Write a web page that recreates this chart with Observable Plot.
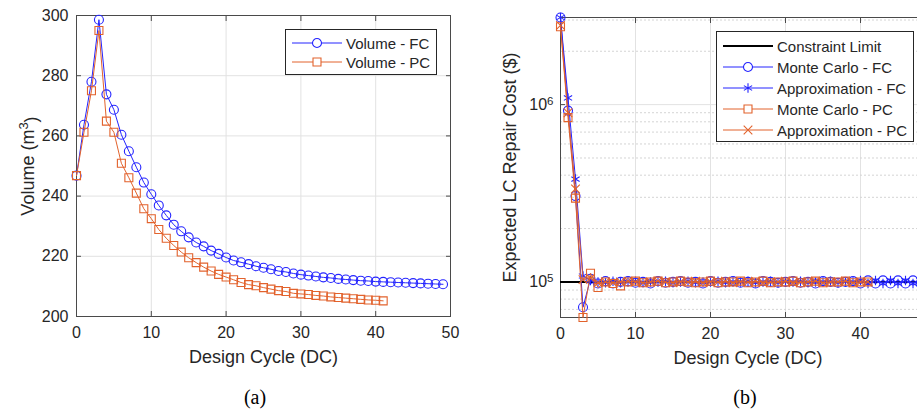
<!DOCTYPE html>
<html><head><meta charset="utf-8">
<script src="https://cdn.jsdelivr.net/npm/d3@7"></script>
<script src="https://cdn.jsdelivr.net/npm/@observablehq/plot@0.6"></script>
<style>
html,body{margin:0;padding:0;background:#fff;overflow:hidden;width:917px;height:409px}
#wrap{position:relative;width:917px;height:409px;overflow:hidden;font-family:"Liberation Sans",Arial,sans-serif}
.panel{position:absolute;top:0}
.legend{position:absolute;background:#fff;border:1px solid #262626;font-size:15px;color:#262626;box-sizing:border-box}
.legend .row{position:absolute;left:0;display:flex;align-items:center;white-space:nowrap}
.legend svg{display:block;margin-right:4px}
.cap{position:absolute;font-family:"Liberation Serif","Times New Roman",serif;font-size:20px;color:#000;transform:translate(-50%,-50%)}
</style></head>
<body><div id="wrap"></div>
<script>
// ---- data ----
const xTicks = [0, 10, 20, 30, 40, 50];
const xTicksVisibleB = [0, 10, 20, 30, 40];
const volTicks = [200, 220, 240, 260, 280, 300];
const costTicks = [1e5, 1e6];
const costMinor = [7e4, 8e4, 9e4, 2e5, 3e5, 4e5, 5e5, 6e5, 7e5, 8e5, 9e5, 2e6, 3e6];

const volumeFC = [246.8, 263.7, 278.0, 298.6, 273.8, 268.7, 260.4, 254.9, 249.6, 244.5,
  240.6, 236.9, 233.6, 230.5, 228.3, 226.3, 224.6, 223.3, 221.9, 220.8,
  219.6, 218.6, 218.0, 217.4, 216.7, 216.2, 215.7, 215.1, 214.8, 214.3,
  213.9, 213.6, 213.3, 213.0, 212.8, 212.5, 212.3, 212.1, 211.9, 211.8,
  211.6, 211.5, 211.4, 211.3, 211.2, 211.1, 211.0, 210.9, 210.8, 210.7];
const volumePC = [246.8, 261.2, 275.0, 295.0, 264.9, 261.2, 250.9, 246.1, 241.0, 235.8,
  232.5, 228.9, 226.0, 223.6, 221.4, 219.5, 217.9, 216.4, 215.1, 214.0,
  213.1, 212.2, 211.3, 210.6, 210.2, 209.6, 209.1, 208.6, 208.3, 207.7,
  207.5, 207.3, 207.0, 206.8, 206.5, 206.3, 206.1, 205.9, 205.7, 205.5,
  205.4, 205.2];

const constraintLimit = 1e5;
const mcFC = [3.10e6, 9.25e5, 3.05e5, 7.2e4, 1.04e5, 9.8e4, 1.01e5, 9.8e4, 1.0e5, 1.01e5,
  9.9e4, 1.0e5, 9.8e4, 1.01e5, 9.9e4, 1.0e5, 1.01e5, 9.9e4, 1.0e5, 9.8e4,
  1.01e5, 9.9e4, 1.0e5, 1.01e5, 9.9e4, 1.0e5, 9.8e4, 1.01e5, 1.0e5, 9.9e4,
  1.0e5, 1.01e5, 9.9e4, 1.0e5, 9.8e4, 1.01e5, 1.0e5, 9.9e4, 1.0e5, 1.01e5,
  9.8e4, 1.02e5, 9.8e4, 1.02e5, 9.8e4, 1.02e5, 9.8e4, 1.02e5, 9.8e4, 1.02e5];
const apFC = [3.10e6, 1.09e6, 3.8e5, 1.08e5, 1.02e5, 1.0e5, 9.9e4, 1.01e5, 9.9e4, 1.0e5,
  1.01e5, 9.9e4, 1.0e5, 1.0e5, 1.01e5, 9.9e4, 1.0e5, 1.01e5, 9.9e4, 1.0e5,
  1.0e5, 1.01e5, 9.9e4, 1.0e5, 1.0e5, 1.01e5, 9.9e4, 1.0e5, 1.01e5, 9.9e4,
  1.0e5, 1.0e5, 1.01e5, 9.9e4, 1.0e5, 1.0e5, 1.01e5, 9.9e4, 1.0e5, 1.0e5,
  1.02e5, 9.8e4, 1.02e5, 9.8e4, 1.02e5, 9.8e4, 1.02e5, 9.8e4, 1.02e5, 9.8e4];
const mcPC = [2.75e6, 8.45e5, 2.97e5, 6.3e4, 1.12e5, 9.3e4, 1.0e5, 9.8e4, 9.5e4, 1.0e5,
  1.01e5, 9.9e4, 1.0e5, 1.01e5, 9.9e4, 1.0e5, 1.01e5, 1.0e5, 9.9e4, 1.0e5,
  1.01e5, 9.9e4, 1.0e5, 1.0e5, 1.01e5, 9.9e4, 1.0e5, 1.01e5, 9.9e4, 1.0e5,
  1.0e5, 1.01e5, 9.9e4, 1.0e5, 1.01e5, 9.9e4, 1.0e5, 1.0e5, 1.01e5, 9.9e4,
  1.0e5, 1.0e5];
const apPC = [2.80e6, 9.0e5, 3.35e5, 1.03e5, 1.05e5, 9.9e4, 1.0e5, 9.9e4, 1.0e5, 1.01e5,
  1.0e5, 9.9e4, 1.0e5, 1.01e5, 1.0e5, 9.9e4, 1.0e5, 1.0e5, 1.01e5, 9.9e4,
  1.0e5, 1.0e5, 1.01e5, 9.9e4, 1.0e5, 1.0e5, 1.01e5, 9.9e4, 1.0e5, 1.0e5,
  1.01e5, 9.9e4, 1.0e5, 1.0e5, 1.01e5, 9.9e4, 1.0e5, 1.0e5, 1.01e5, 9.9e4,
  1.0e5, 1.0e5];

// ---- styles ----
const BLUE = "#2424ff", ORANGE = "#e2622c";
const GRID = "#e2e2e2", FRAME = "#4a4a4a", TXT = "#262626";
const toRows = arr => arr.map((v, i) => ({dc: i, v}));
const noLabel = () => "";
const baseStyle = {fontFamily: "'Liberation Sans', Arial, sans-serif", fontSize: "16px", color: TXT, background: "transparent", overflow: "visible"};

const wrap = document.getElementById("wrap");

// superscript helper: "base^exp" -> base + raised tspan
function superscripts(svg) {
  d3.select(svg).selectAll("text").each(function() {
    const el = d3.select(this);
    const nodes = el.selectAll("tspan").size() ? el.selectAll("tspan") : el;
    nodes.each(function() {
      const n = d3.select(this);
      const s = n.text();
      const m = s.match(/^(.*)\^(\w)(.*)$/);
      if (!m) return;
      n.text(m[1]);
      n.append("tspan").attr("dy", "-0.45em").attr("font-size", "0.72em").text(m[2]);
      if (m[3]) n.append("tspan").attr("dy", "0.45em").text(m[3]);
    });
  });
}

// ---- panel (a) ----
const pa = Plot.plot({
  width: 460, height: 380,
  marginLeft: 76, marginRight: 10, marginTop: 15, marginBottom: 64,
  style: baseStyle,
  x: {domain: [0, 50]},
  y: {domain: [200, 300]},
  marks: [
    Plot.gridX(xTicks, {stroke: GRID, strokeOpacity: 1}),
    Plot.gridY(volTicks, {stroke: GRID, strokeOpacity: 1}),
    Plot.axisX(xTicks, {anchor: "bottom", tickSize: -5, tickPadding: 15, stroke: FRAME, label: null, fill: TXT}),
    Plot.axisX(xTicks, {anchor: "top", tickSize: -5, tickFormat: noLabel, stroke: FRAME, label: null}),
    Plot.axisY(volTicks, {anchor: "left", tickSize: -5, tickPadding: 13, stroke: FRAME, label: null, fill: TXT}),
    Plot.axisY(volTicks, {anchor: "right", tickSize: -5, tickFormat: noLabel, stroke: FRAME, label: null}),
    Plot.frame({stroke: FRAME}),
    Plot.line(toRows(volumeFC), {x: "dc", y: "v", stroke: BLUE, strokeWidth: 1}),
    Plot.dot(toRows(volumeFC), {x: "dc", y: "v", stroke: BLUE, r: 4.5, strokeWidth: 1.1, symbol: "circle"}),
    Plot.line(toRows(volumePC), {x: "dc", y: "v", stroke: ORANGE, strokeWidth: 1}),
    Plot.dot(toRows(volumePC), {x: "dc", y: "v", stroke: ORANGE, r: 4.5, strokeWidth: 1.1, symbol: "square"}),
    Plot.text(["Design Cycle (DC)"], {frameAnchor: "bottom", dy: 46, fontSize: 18, fill: TXT}),
    Plot.text(["Volume (m^3)"], {frameAnchor: "left", dx: -48, rotate: -90, textAnchor: "middle", fontSize: 18, fill: TXT})
  ]
});
superscripts(pa);
pa.classList.add("panel"); pa.style.left = "0px";
wrap.appendChild(pa);

// ---- panel (b) ----
const pb = Plot.plot({
  width: 480, height: 380,
  marginLeft: 100, marginRight: 5, marginTop: 17, marginBottom: 63,
  style: baseStyle,
  x: {domain: [0, 50]},
  y: {type: "log", domain: [6.3e4, 3.1e6]},
  marks: [
    Plot.gridX(xTicksVisibleB, {stroke: GRID, strokeOpacity: 1}),
    Plot.gridY(costMinor, {stroke: "#d4d4d4", strokeOpacity: 1, strokeDasharray: "2,2"}),
    Plot.gridY(costTicks, {stroke: GRID, strokeOpacity: 1}),
    Plot.axisX(xTicksVisibleB, {anchor: "bottom", tickSize: -5, tickPadding: 15, stroke: FRAME, label: null, fill: TXT}),
    Plot.axisX(xTicksVisibleB, {anchor: "top", tickSize: -5, tickFormat: noLabel, stroke: FRAME, label: null}),
    Plot.axisY(costTicks, {anchor: "left", tickSize: -5, tickPadding: 12, stroke: FRAME, label: null, fill: TXT,
      tickFormat: d => "10^" + Math.round(Math.log10(d))}),
    Plot.frame({stroke: FRAME}),
    Plot.ruleY([constraintLimit], {stroke: "#000", strokeWidth: 2}),
    Plot.line(toRows(mcFC), {x: "dc", y: "v", stroke: BLUE, strokeWidth: 1}),
    Plot.dot(toRows(mcFC), {x: "dc", y: "v", stroke: BLUE, r: 4.5, strokeWidth: 1.1, symbol: "circle"}),
    Plot.line(toRows(apFC), {x: "dc", y: "v", stroke: BLUE, strokeWidth: 1}),
    Plot.dot(toRows(apFC), {x: "dc", y: "v", stroke: BLUE, r: 4.5, strokeWidth: 1.1, symbol: "asterisk"}),
    Plot.line(toRows(mcPC), {x: "dc", y: "v", stroke: ORANGE, strokeWidth: 1}),
    Plot.dot(toRows(mcPC), {x: "dc", y: "v", stroke: ORANGE, r: 4.5, strokeWidth: 1.1, symbol: "square"}),
    Plot.line(toRows(apPC), {x: "dc", y: "v", stroke: ORANGE, strokeWidth: 1}),
    Plot.dot(toRows(apPC), {x: "dc", y: "v", stroke: ORANGE, r: 4, strokeWidth: 1.1, symbol: "times"}),
    Plot.text(["Design Cycle (DC)"], {frameAnchor: "bottom", dy: 46, fontSize: 18, fill: TXT}),
    Plot.text(["Expected LC Repair Cost ($)"], {frameAnchor: "left", dx: -50, rotate: -90, textAnchor: "middle", fontSize: 18, fill: TXT})
  ]
});
superscripts(pb);
pb.classList.add("panel"); pb.style.left = "460px";
wrap.appendChild(pb);

// ---- legends ----
function swatch(color, marker, w) {
  const s = d3.create("svg").attr("width", 56).attr("height", 14);
  s.append("line").attr("x1", 6).attr("x2", 56).attr("y1", 7).attr("y2", 7).attr("stroke", color).attr("stroke-width", w);
  if (marker) {
    const sym = {circle: d3.symbolCircle, square: d3.symbolSquare, asterisk: d3.symbolAsterisk, times: d3.symbolTimes}[marker];
    const r = marker === "times" ? 4 : 4.5;
    s.append("path").attr("transform", "translate(31,7)").attr("d", d3.symbol(sym, Math.PI * r * r)())
      .attr("fill", marker === "asterisk" || marker === "times" ? "none" : "#fff").attr("stroke", color).attr("stroke-width", 1.1);
  }
  return s.node();
}
function legend(items, left, top, width, height, firstY, step) {
  const box = document.createElement("div");
  box.className = "legend";
  Object.assign(box.style, {left: left + "px", top: top + "px", width: width + "px", height: height + "px"});
  items.forEach((it, i) => {
    const row = document.createElement("div");
    row.className = "row";
    row.style.top = (firstY + i * step - 8) + "px";
    row.style.height = "16px";
    row.appendChild(swatch(it.color, it.marker, it.w || 1));
    const t = document.createElement("span");
    t.textContent = it.label;
    row.appendChild(t);
    box.appendChild(row);
  });
  wrap.appendChild(box);
}
legend([
  {label: "Volume - FC", color: BLUE, marker: "circle"},
  {label: "Volume - PC", color: ORANGE, marker: "square"}
], 285, 29, 152, 46, 13, 19);
legend([
  {label: "Constraint Limit", color: "#000", marker: null, w: 2},
  {label: "Monte Carlo - FC", color: BLUE, marker: "circle"},
  {label: "Approximation - FC", color: BLUE, marker: "asterisk"},
  {label: "Monte Carlo - PC", color: ORANGE, marker: "square"},
  {label: "Approximation - PC", color: ORANGE, marker: "times"}
], 716, 31, 198, 111, 14, 21);

// ---- captions ----
[["(a)", 255], ["(b)", 745]].forEach(([t, x]) => {
  const c = document.createElement("div");
  c.className = "cap"; c.textContent = t;
  c.style.left = x + "px"; c.style.top = "397px";
  wrap.appendChild(c);
});
</script>
</body></html>
